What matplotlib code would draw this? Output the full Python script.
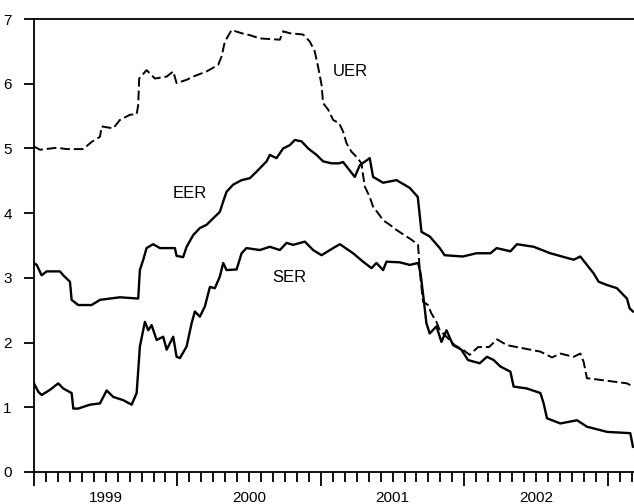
import numpy as np
import matplotlib
matplotlib.use("Agg")
import matplotlib.pyplot as plt

plt.rcParams['font.family'] = ['Liberation Sans', 'DejaVu Sans']

# x values are months since January 1999
uer_m = [0.0, 0.50, 1.90, 2.73, 4.12, 4.82, 5.52, 5.66, 6.63, 7.19, 8.03, 8.59, 8.72, 8.80,
         9.42, 10.12, 11.10, 11.65, 11.93, 12.77, 13.32, 14.44, 15.41, 15.69, 15.97, 16.53,
         17.37, 18.06, 18.90, 20.57, 20.85, 21.40, 22.52, 23.08, 23.49, 23.77, 24.06, 24.19,
         24.61, 25.03, 25.53, 25.86, 26.15, 26.56, 26.98, 27.40, 27.53, 27.68, 28.09, 28.37,
         28.79, 29.21, 29.77, 30.33, 31.16, 31.58, 32.13, 32.22, 32.27, 32.55, 32.97, 33.25,
         33.67, 33.95, 34.51, 35.20, 35.89, 36.45, 37.15, 38.07, 38.74, 39.57, 40.97, 42.37,
         43.34, 44.04, 45.15, 45.71, 45.99, 46.26, 47.94, 49.61, 50.11]
uer = [5.03, 4.98, 5.01, 4.99, 4.99, 5.10, 5.18, 5.34, 5.31, 5.44, 5.52, 5.53, 5.67, 6.08,
       6.21, 6.08, 6.11, 6.19, 6.01, 6.06, 6.11, 6.19, 6.29, 6.42, 6.65, 6.83,
       6.78, 6.75, 6.70, 6.68, 6.81, 6.78, 6.76, 6.65, 6.50, 6.26, 5.98, 5.70,
       5.60, 5.44, 5.39, 5.26, 5.08, 4.95, 4.87, 4.77, 4.59, 4.41, 4.25, 4.10,
       4.00, 3.89, 3.82, 3.74, 3.64, 3.59, 3.51, 3.28, 3.12, 2.63, 2.58, 2.45,
       2.32, 2.19, 2.09, 1.96, 1.89, 1.81, 1.93, 1.93, 2.05, 1.96, 1.91, 1.86,
       1.77, 1.83, 1.78, 1.83, 1.70, 1.45, 1.41, 1.37, 1.32]

eer_m = [0.0, 0.23, 0.64, 1.06, 2.17, 2.45, 3.01, 3.15, 3.70, 4.82, 5.52, 6.35, 7.19, 8.72,
         8.86, 9.14, 9.42, 9.97, 10.54, 11.79, 11.93, 12.48, 12.77, 13.32, 13.88, 14.44,
         14.99, 15.55, 15.83, 16.11, 16.66, 17.37, 18.06, 18.62, 19.46, 19.73, 20.29, 20.85,
         21.40, 21.82, 22.38, 22.94, 23.64, 24.19, 24.89, 25.53, 25.86, 26.84, 27.26, 28.09,
         28.37, 29.21, 30.33, 31.44, 32.11, 32.42, 33.11, 33.95, 34.36, 35.87, 37.02, 38.19,
         38.71, 39.86, 40.41, 41.81, 43.20, 45.15, 45.71, 46.26, 46.82, 47.24, 47.94, 48.77,
         49.61, 49.83, 50.11]
eer = [3.23, 3.20, 3.04, 3.10, 3.10, 3.04, 2.94, 2.66, 2.58, 2.58, 2.66, 2.68, 2.70, 2.68,
       3.12, 3.28, 3.46, 3.52, 3.46, 3.46, 3.34, 3.32, 3.48, 3.66, 3.77, 3.82,
       3.92, 4.02, 4.18, 4.33, 4.44, 4.51, 4.54, 4.64, 4.80, 4.90, 4.85, 5.00,
       5.05, 5.13, 5.11, 5.00, 4.90, 4.80, 4.77, 4.77, 4.79, 4.56, 4.74, 4.85,
       4.56, 4.47, 4.51, 4.39, 4.25, 3.71, 3.64, 3.46, 3.35, 3.33, 3.38, 3.38,
       3.46, 3.41, 3.52, 3.48, 3.38, 3.28, 3.33, 3.20, 3.07, 2.94, 2.89, 2.84,
       2.68, 2.53, 2.48]

ser_m = [0.0, 0.36, 0.64, 1.34, 2.03, 2.45, 3.15, 3.29, 3.70, 4.68, 5.52, 6.08, 6.63, 7.47,
         8.17, 8.59, 8.86, 9.28, 9.56, 9.84, 10.26, 10.81, 11.10, 11.65, 11.93, 12.21,
         12.77, 13.19, 13.46, 13.88, 14.30, 14.72, 15.13, 15.55, 15.83, 16.11, 16.95, 17.37,
         17.78, 18.90, 19.73, 20.57, 21.13, 21.68, 22.66, 23.35, 24.06, 25.03, 25.59, 26.70,
         27.53, 28.24, 28.65, 29.21, 29.49, 30.60, 31.44, 32.14, 32.34, 32.61, 32.83, 33.11,
         33.67, 34.09, 34.51, 35.06, 35.76, 36.31, 37.29, 37.90, 38.46, 39.02, 39.86, 40.13,
         41.25, 42.37, 42.64, 42.92, 44.04, 45.43, 46.26, 47.94, 49.89, 50.11]
ser = [1.37, 1.24, 1.19, 1.27, 1.37, 1.29, 1.22, 0.98, 0.98, 1.04, 1.06, 1.26, 1.16, 1.11,
       1.04, 1.22, 1.94, 2.32, 2.19, 2.27, 2.04, 2.09, 1.89, 2.09, 1.78, 1.76,
       1.94, 2.30, 2.48, 2.40, 2.56, 2.86, 2.84, 3.02, 3.23, 3.12, 3.13, 3.38,
       3.46, 3.43, 3.48, 3.43, 3.54, 3.51, 3.56, 3.43, 3.35, 3.46, 3.52, 3.38,
       3.25, 3.15, 3.23, 3.12, 3.25, 3.24, 3.20, 3.23, 3.07, 2.66, 2.30, 2.14,
       2.25, 2.01, 2.19, 1.96, 1.89, 1.73, 1.68, 1.78, 1.73, 1.63, 1.55, 1.32,
       1.29, 1.22, 1.06, 0.83, 0.75, 0.80, 0.70, 0.62, 0.60, 0.39]

years = ['1999', '2000', '2001', '2002']

fig = plt.figure(figsize=(6.34, 5.04), dpi=100)
ax = fig.add_axes([0.0536, 0.0635, 0.9464, 0.8988])

ax.plot(uer_m, uer, color='black', lw=1.4, linestyle=(0, (5, 2)))
ax.plot(eer_m, eer, color='black', lw=1.7)
ax.plot(ser_m, ser, color='black', lw=1.7)

ax.text(26.5, 6.19, 'UER', fontsize=12, ha='center', va='center')
ax.text(13.0, 4.30, 'EER', fontsize=12, ha='center', va='center')
ax.text(21.4, 3.0, 'SER', fontsize=12, ha='center', va='center')

ax.set_xlim(0, 50.2)
ax.set_ylim(0, 7)
ax.set_yticks(range(8))
ax.tick_params(axis='y', length=7, width=1.3, pad=9, labelsize=11)

ax.set_xticks(np.arange(0, 49, 12))
ax.set_xticklabels([])
ax.set_xticks(np.arange(0, 51, 1), minor=True)
ax.tick_params(axis='x', which='major', length=10, width=1.3)
ax.tick_params(axis='x', which='minor', length=7, width=1.3)

sec = ax.secondary_xaxis('bottom')
sec.set_xticks(np.arange(len(years)) * 12 + 6, years)
sec.tick_params(length=0, pad=14, labelsize=11)
sec.spines['bottom'].set_visible(False)

ax.spines['right'].set_visible(False)
for s in ['left', 'bottom', 'top']:
    ax.spines[s].set_linewidth(1.3)

fig.savefig('out.png', dpi=100)
